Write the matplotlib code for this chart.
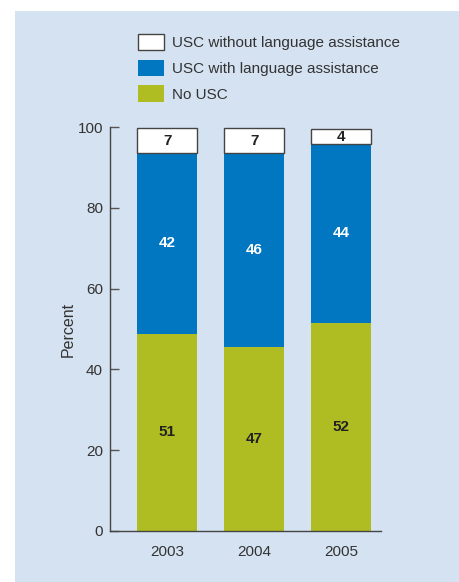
import matplotlib.pyplot as plt
from matplotlib.patches import Rectangle

plt.rcParams['font.family'] = ['Liberation Sans', 'DejaVu Sans']

# Data
years = ['2003', '2004', '2005']
no_usc = [48.8, 45.6, 51.6]
usc_with = [44.8, 48.0, 44.2]
usc_without = [6.2, 6.2, 3.8]
no_usc_labels = ['51', '47', '52']
usc_with_labels = ['42', '46', '44']
usc_without_labels = ['7', '7', '4']

green = '#afbd22'
blue = '#0077c0'
panel = '#d5e2f1'
text_col = '#333333'

W, H = 460, 582
fig = plt.figure(figsize=(W / 100, H / 100), dpi=100)
fig.patch.set_facecolor('white')

# light blue panel behind everything
fig.patches.append(Rectangle((15 / W, 0), 1 - 15 / W, (H - 11) / H,
                             transform=fig.transFigure, facecolor=panel,
                             edgecolor='none', zorder=-5))

ax = fig.add_axes([110 / W, (H - 530.7) / H, 271 / W, 403.4 / H])
ax.set_facecolor('none')

x = list(range(len(years)))
width = 0.69
bottom2 = [a + b for a, b in zip(no_usc, usc_with)]

b1 = ax.bar(x, no_usc, width, color=green, label='No USC')
b2 = ax.bar(x, usc_with, width, bottom=no_usc, color=blue,
            label='USC with language assistance')
b3 = ax.bar(x, usc_without, width, bottom=bottom2, color='white',
            edgecolor='#444444', linewidth=1.0,
            label='USC without language assistance')

for i in x:
    ax.text(i, no_usc[i] / 2, no_usc_labels[i], ha='center', va='center',
            fontsize=11, fontweight='bold', color='#222222')
    ax.text(i, no_usc[i] + usc_with[i] / 2, usc_with_labels[i], ha='center',
            va='center', fontsize=11, fontweight='bold', color='white')
    ax.text(i, bottom2[i] + usc_without[i] / 2, usc_without_labels[i],
            ha='center', va='center', fontsize=11, fontweight='bold',
            color='#222222')

ax.set_xlim(-0.659, 2.456)
ax.set_ylim(0, 100)
ax.set_yticks([0, 20, 40, 60, 80, 100])
ax.set_xticks(x)
ax.set_xticklabels(years)
ax.tick_params(axis='y', direction='in', length=6.5, width=1.0,
               color='#555555', labelsize=11, labelcolor=text_col, pad=5)
ax.tick_params(axis='x', length=0, labelsize=11, labelcolor=text_col, pad=10)
for s in ['top', 'right']:
    ax.spines[s].set_visible(False)
for s in ['left', 'bottom']:
    ax.spines[s].set_color('#444444')
    ax.spines[s].set_linewidth(1.0)
ax.set_ylabel('Percent', fontsize=11.5, color=text_col, labelpad=1)

fig.legend([b3, b2, b1],
           ['USC without language assistance', 'USC with language assistance',
            'No USC'],
           loc='upper left', bbox_to_anchor=(124 / W, 1 - 20 / H),
           frameon=False, fontsize=11, handlelength=1.7, handleheight=1.3,
           handletextpad=0.55, labelspacing=0.6, labelcolor=text_col)

fig.savefig('out.png', dpi=100)
